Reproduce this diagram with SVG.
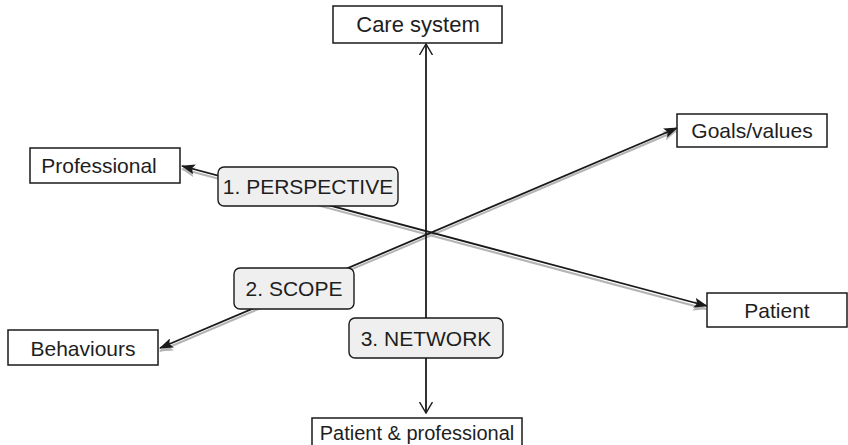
<svg xmlns="http://www.w3.org/2000/svg" width="848" height="445" viewBox="0 0 848 445">
  <defs>
    <marker id="arrowFilled" viewBox="0 0 14 10" refX="13" refY="5" markerWidth="14" markerHeight="10" markerUnits="userSpaceOnUse" orient="auto-start-reverse">
      <path d="M0,0 L14,5 L0,10 L3,5 Z" fill="#1a1a1a"/>
    </marker>
    <marker id="arrowShadow" viewBox="0 0 14 10" refX="13" refY="5" markerWidth="14" markerHeight="10" markerUnits="userSpaceOnUse" orient="auto-start-reverse">
      <path d="M0,0 L14,5 L0,10 L3,5 Z" fill="#b4b4b4"/>
    </marker>
    <marker id="arrowOpen" viewBox="0 0 12 14" refX="11" refY="7" markerWidth="12" markerHeight="14" markerUnits="userSpaceOnUse" orient="auto-start-reverse">
      <path d="M0,0.5 L11,7 L0,13.5" fill="none" stroke="#1a1a1a" stroke-width="1.4"/>
    </marker>
  </defs>
  <style>
    .box { fill: #ffffff; stroke: #1a1a1a; stroke-width: 1.5; }
    .tag { fill: #efefef; stroke: #1a1a1a; stroke-width: 1.4; }
    .txt { font-family: "Liberation Sans", Arial, sans-serif; font-size: 21px; fill: #1e1e1e; text-anchor: middle; }
    .axis { stroke: #1a1a1a; stroke-width: 1.8; fill: none; }
    .shadow { stroke: #b4b4b4; stroke-width: 2; fill: none; }
  </style>

  <rect width="848" height="445" fill="#ffffff"/>

  <!-- connectors -->
  <g id="connectors">
    <!-- grey drop shadows of the diagonal axes -->
    <line class="shadow" x1="182" y1="169" x2="706" y2="309" marker-start="url(#arrowShadow)" marker-end="url(#arrowShadow)"/>
    <line class="shadow" x1="160" y1="351" x2="676" y2="131" marker-start="url(#arrowShadow)" marker-end="url(#arrowShadow)"/>
    <!-- perspective axis: Professional <-> Patient -->
    <line class="axis" x1="182" y1="166" x2="707" y2="306" marker-start="url(#arrowFilled)" marker-end="url(#arrowFilled)"/>
    <!-- scope axis: Behaviours <-> Goals/values -->
    <line class="axis" x1="160" y1="348" x2="677" y2="128" marker-start="url(#arrowFilled)" marker-end="url(#arrowFilled)"/>
    <!-- network axis: Care system <-> Patient & professional -->
    <line class="axis" x1="426" y1="44" x2="426" y2="413" marker-start="url(#arrowOpen)" marker-end="url(#arrowOpen)"/>
  </g>

  <!-- end-point nodes -->
  <g id="care-system">
    <rect class="box" x="333" y="6" width="169" height="37"/>
    <text class="txt" x="418" y="32" style="font-size:22px">Care system</text>
  </g>
  <g id="professional">
    <rect class="box" x="30" y="148" width="150" height="35"/>
    <text class="txt" x="99" y="172.5">Professional</text>
  </g>
  <g id="goals-values">
    <rect class="box" x="677" y="114" width="150" height="33"/>
    <text class="txt" x="752" y="138">Goals/values</text>
  </g>
  <g id="patient">
    <rect class="box" x="707" y="293" width="140" height="34"/>
    <text class="txt" x="777" y="317.5">Patient</text>
  </g>
  <g id="behaviours">
    <rect class="box" x="8" y="330" width="150" height="35"/>
    <text class="txt" x="83" y="355.5">Behaviours</text>
  </g>
  <g id="patient-professional">
    <rect class="box" x="312" y="418" width="210" height="30"/>
    <text class="txt" x="417" y="440" style="font-size:20px">Patient &amp; professional</text>
  </g>

  <!-- axis labels -->
  <g id="label-perspective">
    <rect class="tag" x="218" y="167" width="180" height="39" rx="6"/>
    <text class="txt" x="308" y="194">1. PERSPECTIVE</text>
  </g>
  <g id="label-scope">
    <rect class="tag" x="234" y="268" width="120" height="41" rx="6"/>
    <text class="txt" x="294" y="296">2. SCOPE</text>
  </g>
  <g id="label-network">
    <rect class="tag" x="349" y="318" width="154" height="40" rx="6"/>
    <text class="txt" x="426" y="345.5">3. NETWORK</text>
  </g>
</svg>
